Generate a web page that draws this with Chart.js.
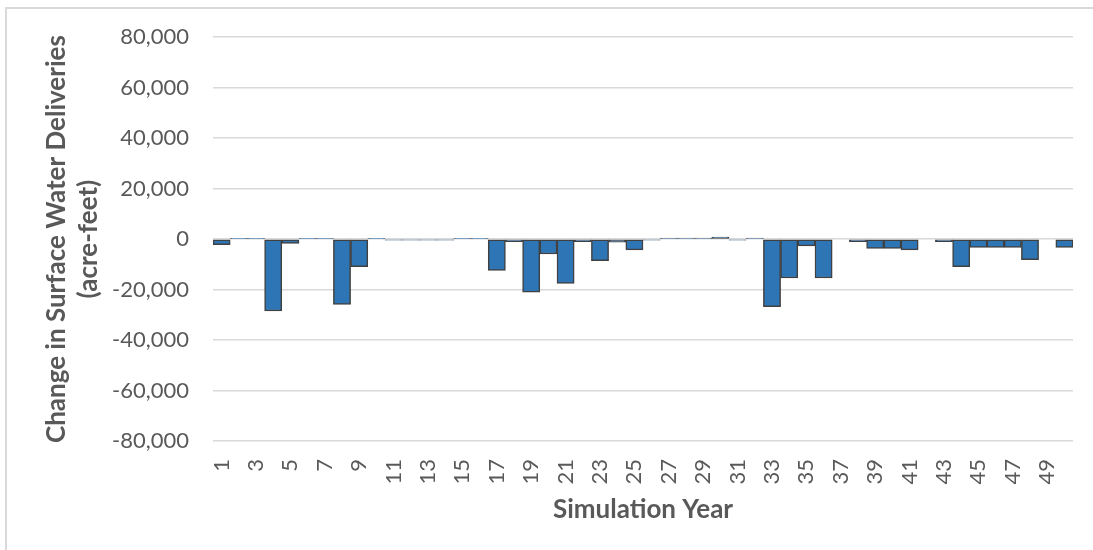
<!DOCTYPE html>
<html>
<head>
<meta charset="utf-8">
<script src="https://cdn.jsdelivr.net/npm/chart.js@4"></script>
<style>
  html, body { margin: 0; padding: 0; background: #fff; }
  #wrap { position: relative; width: 1093px; height: 550px; overflow: hidden; }
  #frame { position: absolute; left: 5px; top: 7px; width: 1200px; height: 700px;
           border-top: 2px solid #d9d9d9; border-left: 2px solid #d9d9d9; }
  canvas { position: absolute; left: 0; top: 0; }
</style>
</head>
<body>
<div id="wrap">
  <div id="frame"></div>
  <canvas id="chart" width="1093" height="550"></canvas>
</div>
<script>
const years = Array.from({ length: 50 }, (_, i) => String(i + 1));

// change in surface water deliveries per simulation year (acre-feet)
const deliveryChange = [
  -2200, 300, 300, -28500, -1700, 300, 300, -25900, -10900, 300,
  -400, -400, -400, -400, 300, 300, -12400, -1000, -21000, -5900,
  -17600, -1000, -8500, -1200, -4300, -400, 400, 400, 400, 800,
  -400, 400, -26800, -15400, -2700, -15400, 0, -1000, -3700, -3700,
  -4300, 0, -1000, -10900, -3300, -3300, -3300, -8200, 0, -3300
];

const yMin = -80000;
const yMax = 80000;
const yStep = 20000;

const textColor = "#595959";
const gridColor = "#d9d9d9";

new Chart(document.getElementById("chart"), {
  type: "bar",
  data: {
    labels: years,
    datasets: [{
      data: deliveryChange,
      backgroundColor: "#2e75b6",
      borderColor: "#404040",
      borderWidth: 1.5,
      borderSkipped: false,
      barPercentage: 1,
      categoryPercentage: 1,
    }],
  },
  options: {
    responsive: false,
    animation: false,
    layout: { padding: { top: 34, right: 20, bottom: 0, left: 0 } },
    plugins: { legend: { display: false }, tooltip: { enabled: false } },
    scales: {
      x: {
        grid: { display: false, drawTicks: false },
        border: { display: false },
        ticks: {
          color: textColor,
          font: { family: "Lato", size: 22 },
          autoSkip: false,
          minRotation: 90,
          maxRotation: 90,
          padding: 18,
          callback: (v, i) => (i % 2 === 0 ? years[i] : ""),
        },
        title: {
          display: true,
          text: "Simulation Year",
          color: textColor,
          font: { family: "Lato", size: 26, weight: "bold" },
          padding: { top: 0, bottom: 25 },
        },
        afterFit: (scale) => {
          scale.height = 109;
          scale.paddingLeft = 0;
          scale.paddingRight = 0;
        },
      },
      y: {
        min: yMin,
        max: yMax,
        grid: { color: gridColor, lineWidth: 1.5, drawTicks: false },
        border: { display: false },
        ticks: {
          stepSize: yStep,
          color: textColor,
          font: { family: "Lato", size: 22 },
          padding: 24,
          callback: (v) => v.toLocaleString("en-US"),
        },
        title: {
          display: true,
          text: ["Change in Surface Water Deliveries", "(acre-feet)"],
          color: textColor,
          font: { family: "Lato", size: 26, weight: "bold", lineHeight: 1.24 },
          padding: { top: 40, bottom: 0 },
        },
        afterFit: (scale) => { scale.width = 213; },
      },
    },
  },
});
</script>
</body>
</html>
